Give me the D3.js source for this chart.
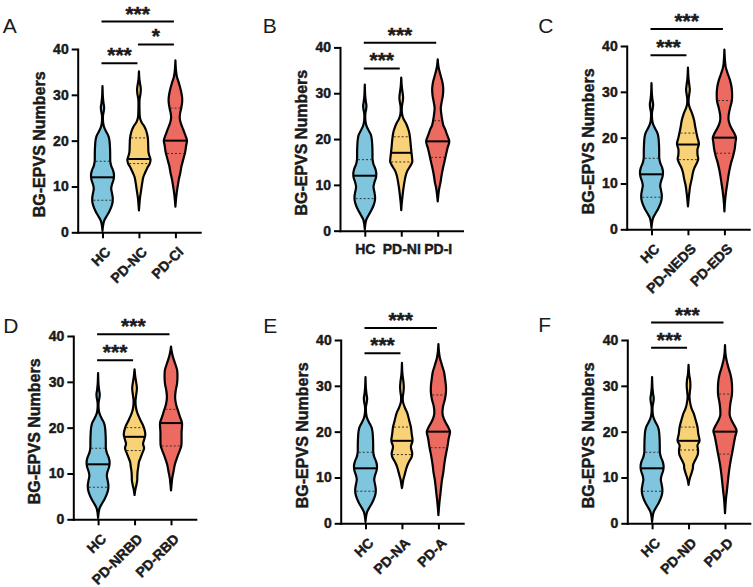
<!DOCTYPE html>
<html><head><meta charset="utf-8">
<script src="https://cdn.jsdelivr.net/npm/d3@7"></script>
<style>body{margin:0;background:#fff}svg{display:block}</style>
</head><body><svg id="chart" width="753" height="587"></svg>
<script>
// ---------- data ----------
const yTicks = [0, 10, 20, 30, 40];
const panelLetters = ["A", "B", "C", "D", "E", "F"];
const catsA = ["HC", "PD-NC", "PD-CI"];
const catsB = ["HC", "PD-NI", "PD-I"];
const catsC = ["HC", "PD-NEDS", "PD-EDS"];
const catsD = ["HC", "PD-NRBD", "PD-RBD"];
const catsE = ["HC", "PD-NA", "PD-A"];
const catsF = ["HC", "PD-ND", "PD-D"];
const groupColors = ["#7fc5dd", "#f9d278", "#ec6a60"];

// violin density profiles: [BG-EPVS value, relative density]
const profHC = [[0.3,0],[1.5,0.6],[2.5,1.6],[3.5,4],[4.5,6.5],[5.5,8.5],[6.5,9.8],[7.5,10],[8.5,9.3],[9.5,8.5],[10.5,9.3],[11.5,10.8],[12.5,11.2],[13.5,10.3],[14.5,8.5],[15.5,7.6],[17,7.5],[18.5,7.3],[20,6.8],[21,5.8],[22,3.5],[23,1.5],[24,0.6],[25.5,0.5],[26.5,1.3],[27.3,1.6],[28.2,1.0],[29.5,0.4],[31.9,0]];
const profNC = [[4.8,0],[6,0.4],[7.5,1],[9,2],[10.5,3],[12,4.2],[13,6],[14,8],[15,10.5],[15.8,11.3],[16.8,10],[17.5,9.3],[19,9],[20.5,8.7],[22,7.3],[23,5.5],[24,2.5],[25,1.0],[27,0.5],[29,0.6],[30.2,1.5],[31.3,1.8],[32.3,1.2],[33.5,0.4],[35.1,0]];
const profCI = [[5.6,0],[7,0.5],[8.5,1.2],[10,2.2],[11.5,3.3],[13,4.8],[14.5,6],[16,7.8],[17.5,9.5],[19,10.5],[20,11.3],[21,10],[22.5,7.5],[24,5],[25,4.2],[26,4.6],[27,5.6],[28.5,6.6],[29.5,6.5],[31,5.3],[32.5,3.5],[34,1.4],[35.5,0.5],[37.5,0]];
const profNI = [[4.5,0],[6,0.5],[7.5,1.2],[9,2],[10.5,3],[12,4.3],[13,5.8],[14,8.5],[15,10.7],[16,10.5],[17,10],[18.5,9.3],[20,8.7],[21.5,7.7],[22.5,6.3],[23.5,4.5],[24.5,2],[25.5,0.8],[27,0.6],[28,1.3],[29,1.8],[30,1.4],[31.5,0.5],[33.4,0]];
const profI = [[6.4,0],[7.5,0.5],[9,1.3],[10.5,2.7],[12,3.7],[13.5,5],[15,6.5],[16.5,8],[18,9.5],[19.5,11.3],[21,9],[22,7.5],[23,5.5],[24,4.5],[25.5,3.5],[26.8,3],[28,3.8],[29.5,5],[31,5.4],[32.5,4.5],[33.5,3.3],[35,1.5],[36,0.6],[37.4,0]];
const profNEDS = [[5,0],[6.5,0.6],[8,1.3],[9.5,2.2],[11,3.7],[12.5,5],[13.5,6.5],[14.5,8.7],[15.3,10],[16.3,9.3],[17.5,9.3],[18.6,10.7],[20,9.3],[21,8.3],[22.5,7],[23.8,6],[25.3,4],[26.5,1.8],[27.5,0.7],[28.5,0.7],[29.5,1.3],[30.5,1.8],[31.5,1.3],[33,0.5],[35.3,0]];
const profEDS = [[3.9,0],[5.5,0.4],[7,1],[8.5,1.8],[10,2.8],[11.5,3.8],[13,5],[14.5,6.5],[16,8.5],[17.5,10],[19,10.8],[20,11.3],[21,9.5],[22,7],[23,5],[24,4],[25,4.2],[26.5,5.5],[28,7.2],[29.5,7.5],[31,7],[32.5,5.5],[34,3.2],[35.5,1.2],[37,0.5],[39.2,0]];
const profNRBD = [[5.3,0],[6.5,0.8],[7.5,1.8],[8.5,2.6],[9.5,2.7],[10.5,3],[11.5,3.7],[12.5,4.3],[13.5,6],[14.5,7.7],[15.5,9.3],[16.5,8.3],[17.5,9.5],[18.5,10.5],[19.5,9.8],[20.5,8.3],[21.5,6],[22.5,4],[23.5,2.3],[24.5,1.3],[25.8,0.9],[27,1.5],[28.6,2.3],[30,1.5],[31.3,0.6],[32.7,0]];
const profRBD = [[6.3,0],[7.5,0.5],[9,1.2],[10.5,2.5],[12,3.8],[13.5,6],[15,8.5],[16,10],[17.5,10.3],[19,10.3],[21,10.7],[22.5,8.5],[23.8,6.7],[25,5],[26.5,4],[28,4.5],[29.5,5.8],[31,6.3],[32.5,6],[34,4],[35.5,1.8],[36.5,0.8],[37.7,0]];
const profNA = [[7.7,0],[8.5,0.6],[9.5,1.3],[10.5,2.5],[11.5,3.7],[12.5,5],[13.5,7],[14.5,9.5],[15.3,10],[16.7,8.7],[18,10.3],[19.5,9.5],[21,8.7],[22.5,7],[24,5.3],[25.3,2.7],[26.5,1],[27.5,0.8],[28.7,1.5],[29.8,1.8],[31,1.4],[32.5,0.5],[35,0]];
const profA = [[1.8,0],[3.5,0.6],[5,1.2],[6.5,2],[8,2.7],[9.5,3.5],[11,4.7],[12.5,5.5],[14,6.5],[15.5,7.7],[17,9],[18.5,10],[20,11.3],[21,9.5],[22,7],[23,5],[24,4],[25.5,4.5],[27,6.3],[28.5,7.3],[30,7.3],[31.5,6.5],[33,5.5],[34.5,3.5],[36,1.5],[37.5,0.5],[39.1,0]];
const profND = [[8.4,0],[9.2,0.6],[10,1.5],[11,3],[12,4.2],[12.8,4.5],[13.8,6.5],[15,9],[16,9.3],[17,8.7],[18,10.7],[19.5,9.5],[21,8.7],[22.5,7],[24,5],[25,3],[26,1.8],[27.5,0.9],[28.7,1.3],[30,1.8],[31.3,1.5],[32.5,0.6],[34.6,0]];
const profD = [[2.2,0],[4,0.5],[5.5,1],[7,1.8],[8.5,2.5],[10,3.2],[11.5,4],[13,5],[14.5,6.2],[16,7.5],[17.5,8.7],[19,10],[20.2,11.3],[21.2,9.5],[22.2,7],[23.5,4.7],[25,4.7],[26.5,5.5],[28,6.7],[29.5,6.9],[31,6.5],[32.5,5.3],[34,3.3],[35.5,1.6],[37,0.5],[38.9,0]];

// quartiles: [Q1, median, Q3]
const statsHC = [7, 12, 15.5];
const statsNC = [15, 16, 20.6];
const statsCI = [17.2, 20, 27.1];
const statsNI = [15, 17, 20.5];
const statsI = [16, 19.5, 24];
const statsNEDS = [15.2, 18.5, 21];
const statsEDS = [16.6, 20, 28.1];
const statsNRBD = [15, 18, 20];
const statsRBD = [16, 21, 24];
const statsNA = [15, 18, 21];
const statsA = [16.5, 20, 28];
const statsND = [16, 18, 21];
const statsD = [15.1, 20, 28.2];

// significance brackets: [group 1, group 2, label, bracket height (y value)]
const sigA = [["HC","PD-NC","***",36.9],["PD-NC","PD-CI","*",41.0],["HC","PD-CI","***",46.0]];
const sigB = [["HC","PD-NI","***",35.4],["HC","PD-I","***",41.0]];
const sigC = [["HC","PD-NEDS","***",38.0],["HC","PD-EDS","***",43.7]];
const sigD = [["HC","PD-NRBD","***",34.7],["HC","PD-RBD","***",40.4]];
const sigE = [["HC","PD-NA","***",37.1],["HC","PD-A","***",42.6]];
const sigF = [["HC","PD-ND","***",38.3],["HC","PD-D","***",43.8]];

const yTitle = "BG-EPVS Numbers";

// ---------- layout ----------
const FONT = '"Liberation Sans", Arial, Helvetica, sans-serif';
const INK = "#1a1a1a";
const panels = [
  {cats: catsA, profs: [profHC, profNC, profCI], stats: [statsHC, statsNC, statsCI], sig: sigA, ox: 77.7, oy: 232.3, lx: 2.7, ly: 33.3, rot: true},
  {cats: catsB, profs: [profHC, profNI, profI], stats: [statsHC, statsNI, statsI], sig: sigB, ox: 340, oy: 230.7, lx: 262.7, ly: 33.3, rot: false},
  {cats: catsC, profs: [profHC, profNEDS, profEDS], stats: [statsHC, statsNEDS, statsEDS], sig: sigC, ox: 626.7, oy: 229.3, lx: 538.3, ly: 33.3, rot: true},
  {cats: catsD, profs: [profHC, profNRBD, profRBD], stats: [statsHC, statsNRBD, statsRBD], sig: sigD, ox: 73.3, oy: 519.3, lx: 3.3, ly: 332.5, rot: true},
  {cats: catsE, profs: [profHC, profNA, profA], stats: [statsHC, statsNA, statsA], sig: sigE, ox: 340.7, oy: 523.3, lx: 263.3, ly: 332.5, rot: true},
  {cats: catsF, profs: [profHC, profND, profD], stats: [statsHC, statsND, statsD], sig: sigF, ox: 627.3, oy: 523.3, lx: 538.3, ly: 331.7, rot: true}
];
const PLOT_H = 183.3, AXIS_W = 122.5;

const svg = d3.select("#chart");
const wScale = d3.scaleLinear().domain([0, 11.3]).range([0, 11.6]);

function interp(prof, v) {
  for (let i = 1; i < prof.length; i++) {
    if (v <= prof[i][0]) {
      const a = prof[i-1], b = prof[i];
      const t = (v - a[0]) / (b[0] - a[0]);
      return a[1] + t * (b[1] - a[1]);
    }
  }
  return 0;
}
function boldText(sel, size) {
  return sel.attr("font-family", FONT).attr("font-size", size).attr("font-weight", "bold")
    .attr("fill", INK).attr("stroke", INK).attr("stroke-width", 0.45);
}

panels.forEach((p, pi) => {
  const g = svg.append("g");
  const y = d3.scaleLinear().domain([0, 40]).range([p.oy, p.oy - PLOT_H]);
  const x = d3.scalePoint().domain(p.cats).range([p.ox, p.ox + AXIS_W]).padding(0.68);

  // violins
  p.cats.forEach((c, ci) => {
    const cx = x(c);
    const prof = p.profs[ci];
    const area = d3.area()
      .y(d => y(d[0]))
      .x0(d => cx - wScale(d[1]))
      .x1(d => cx + wScale(d[1]))
      .curve(d3.curveCatmullRom.alpha(0.5));
    g.append("path").datum(prof).attr("d", area)
      .attr("fill", groupColors[ci]).attr("stroke", "#000")
      .attr("stroke-width", 2.2).attr("stroke-linejoin", "round");
    const st = p.stats[ci];
    [st[0], st[2]].forEach(q => {
      const hw = wScale(interp(prof, q)) - 1;
      g.append("line").attr("x1", cx - hw).attr("x2", cx + hw)
        .attr("y1", y(q)).attr("y2", y(q))
        .attr("stroke", "#333").attr("stroke-width", 1).attr("stroke-dasharray", "2,2");
    });
    const hm = wScale(interp(prof, st[1])) - 0.5;
    g.append("line").attr("x1", cx - hm).attr("x2", cx + hm)
      .attr("y1", y(st[1])).attr("y2", y(st[1]))
      .attr("stroke", "#000").attr("stroke-width", 2);
  });

  // y axis
  const ya = g.append("g").attr("transform", `translate(${p.ox},0)`)
    .call(d3.axisLeft(y).tickValues(yTicks).tickSize(6).tickSizeOuter(0).tickPadding(3));
  ya.select(".domain").attr("stroke-width", 2).attr("stroke-linecap", "square");
  ya.selectAll(".tick line").attr("stroke-width", 2);
  boldText(ya.selectAll(".tick text"), 14);

  // x axis
  const xa = g.append("g").attr("transform", `translate(0,${p.oy})`)
    .call(d3.axisBottom(x).tickSize(6).tickSizeOuter(0).tickPadding(3));
  xa.select(".domain").attr("stroke-width", 2).attr("stroke-linecap", "square");
  xa.selectAll(".tick line").attr("stroke-width", 2);
  const xt = boldText(xa.selectAll(".tick text"), 14);
  if (p.rot) {
    xt.attr("text-anchor", "end").attr("x", 5).attr("y", 17).attr("dy", "0.35em")
      .attr("transform", "rotate(-45 5 17)");
  } else {
    xt.attr("y", 13).attr("dy", "0.71em");
  }

  // y title
  boldText(g.append("text"), 16)
    .attr("transform", `translate(${p.ox - 33},${p.oy - 88}) rotate(-90)`)
    .attr("text-anchor", "middle").text(yTitle);

  // significance brackets
  p.sig.forEach(s => {
    const x1 = x(s[0]) - 1, x2 = x(s[1]) - 1.5, yy = y(s[3]);
    g.append("line").attr("x1", x1).attr("x2", x2).attr("y1", yy).attr("y2", yy)
      .attr("stroke", "#000").attr("stroke-width", 2);
    boldText(g.append("text"), 21).attr("x", (x1 + x2) / 2).attr("y", yy - 1)
      .attr("text-anchor", "middle").text(s[2]);
  });

  // panel letter
  g.append("text").attr("x", p.lx).attr("y", p.ly).attr("font-family", FONT)
    .attr("font-size", 21).attr("fill", INK).text(panelLetters[pi]);
});
</script></body></html>
